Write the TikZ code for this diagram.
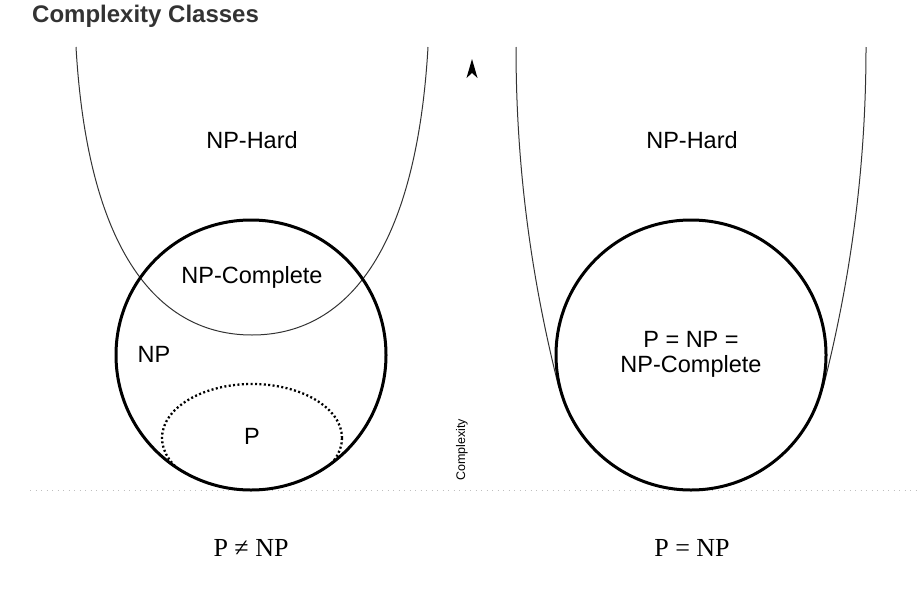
\documentclass[tikz,border=0pt]{standalone}
\usepackage{fontspec}
\setmainfont{Liberation Sans}
\newfontfamily\serif{Liberation Serif}
\usetikzlibrary{arrows.meta}
\tikzset{
  set/.style={circle, draw=black, line width=3pt, minimum size=270pt, inner sep=0pt},
  hardline/.style={draw=black!80, line width=1pt},
  lbl/.style={font=\fontsize{23.5}{27}\selectfont, inner sep=0pt, align=center},
  eqlbl/.style={font=\serif\fontsize{26}{30}\selectfont, inner sep=0pt},
  pdots/.style={line width=2.3pt, dash pattern=on 2pt off 2.4pt},
  baseline/.style={draw=black!25, line width=1pt, dash pattern=on 1pt off 4.5pt}
}
\begin{document}
\begin{tikzpicture}[x=1pt,y=-1pt]
\useasboundingbox (0,0) rectangle (920,597);
% title
\node[anchor=west, inner sep=0pt, text=black!80, font=\bfseries\fontsize{24}{28}\selectfont] (title) at (32,16) {Complexity Classes};
% baseline
\coordinate (bl1) at (30,490);
\coordinate (bl2) at (920,490);
\draw[baseline] (bl1) -- (bl2);
% left NP-hard U
\draw[hardline] (76,47) .. controls (88,255) and (160,335) .. (252,335) .. controls (344,335) and (416,255) .. (428,47);
% right NP-hard sides
\draw[hardline] (516,47) .. controls (516,150) and (527,262) .. (559,388);
\draw[hardline] (866,47) .. controls (866,150) and (855,262) .. (823,388);
% P ellipse clipped to NP circle
\begin{scope}
\clip (251,355) circle (135);
\draw[pdots] (252,438) ellipse (90 and 54);
\end{scope}
% circles
\node[set] (np) at (251,355) {};
\node[set] (pnp) at (691,355) {};
% labels
\node[lbl] (hardL) at (252,140) {NP-Hard};
\node[lbl] (hardR) at (692,140) {NP-Hard};
\node[lbl] (npc) at (252,277) {NP-Complete};
\node[lbl] (nplab) at (154,354) {NP};
\node[lbl] (plab) at (252,436) {P};
\node[lbl] (eqR1) at (691,339) {P = NP =};
\node[lbl] (eqR2) at (691,366) {NP-Complete};
% axis
\fill (472,59) -- (477.5,78) -- (472,73) -- (466.5,78) -- cycle;
\node[rotate=90, inner sep=0pt, font=\fontsize{12.5}{14}\selectfont] (axis) at (462,450) {Complexity};
% bottom
\node[eqlbl] (neq) at (251,548) {P ≠ NP};
\node[eqlbl] (eq) at (692,548) {P = NP};
\end{tikzpicture}
\end{document}
